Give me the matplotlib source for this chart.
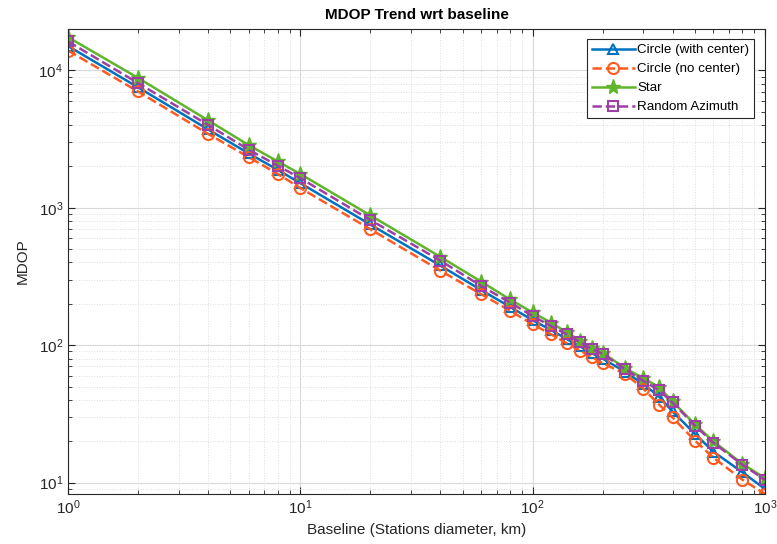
import numpy as np
import matplotlib.pyplot as plt

plt.rcParams['font.family'] = ['Liberation Sans', 'DejaVu Sans']

# baseline (km)
baseline = [1, 2, 4, 6, 8, 10, 20, 40, 60, 80, 100, 120, 140, 160, 180, 200,
            250, 300, 350, 400, 500, 600, 800, 1000]

# MDOP values
circle_center = [15000, 7520, 3720, 2480, 1885, 1510, 755, 380, 252, 190, 152, 129,
                 111, 98, 87.5, 80, 64, 52, 42.3, 33, 22.6, 16.8, 11.9, 9.0]
circle_nocenter = [13900, 7010, 3450, 2330, 1760, 1390, 698, 349, 235, 178, 142, 120,
                   103.5, 91.4, 81.8, 74, 61.8, 48.2, 37, 29.8, 20.2, 15.2, 10.5, 8.3]
star = [17400, 8800, 4330, 2850, 2170, 1760, 880, 440, 290, 215, 173, 146,
        124, 108, 95.5, 88.3, 68, 57.5, 49.5, 39, 26.5, 20, 13.7, 10.8]
random_az = [16200, 8070, 4010, 2640, 2020, 1640, 815, 413, 270, 204, 163, 138,
             120, 105, 93.6, 86.5, 66.8, 55, 47, 38.3, 26, 19.5, 13.5, 10.5]

fig = plt.figure(figsize=(7.77, 5.44), dpi=100)
ax = fig.add_axes([0.0875, 0.092, 0.897, 0.855])

ax.loglog(baseline, circle_center, '-^', color='#0072BD', lw=1.8, ms=7,
          mfc='none', mew=1.5, label='Circle (with center)')
ax.loglog(baseline, circle_nocenter, '--o', color='#FF5A1F', lw=1.8, ms=8,
          mfc='none', mew=1.5, label='Circle (no center)')
ax.loglog(baseline, star, '-*', color='#5FB52C', lw=1.8, ms=11,
          label='Star')
ax.loglog(baseline, random_az, '--s', color='#9E3FA5', lw=1.8, ms=7,
          mfc='none', mew=1.5, label='Random Azimuth')

ax.set_xlim(1, 1000)
ax.set_ylim(8.28, 2e4)

ax.grid(True, which='major', color='#d9d9d9', lw=0.8, ls='-')
ax.grid(True, which='minor', color='#dedede', lw=0.7, ls=':')
ax.set_axisbelow(True)
ax.tick_params(which='both', direction='in', top=True, right=True,
               labelsize=11, colors='#262626')
ax.tick_params(which='major', length=5)
ax.tick_params(which='minor', length=3)
for s in ax.spines.values():
    s.set_color('#262626')
    s.set_linewidth(0.8)

ax.set_title('MDOP Trend wrt baseline', fontsize=11, fontweight='bold', pad=7)
ax.set_xlabel('Baseline (Stations diameter, km)', fontsize=11, color='#262626')
ax.set_ylabel('MDOP', fontsize=11, color='#262626', labelpad=6)

leg = ax.legend(loc='upper right', fontsize=9.6, fancybox=False, framealpha=1,
                edgecolor='#262626', borderpad=0.35, labelspacing=0.5,
                handlelength=3.2, handletextpad=0.2, borderaxespad=0.8)
leg.get_frame().set_linewidth(0.8)

plt.savefig('out.png', dpi=100)
